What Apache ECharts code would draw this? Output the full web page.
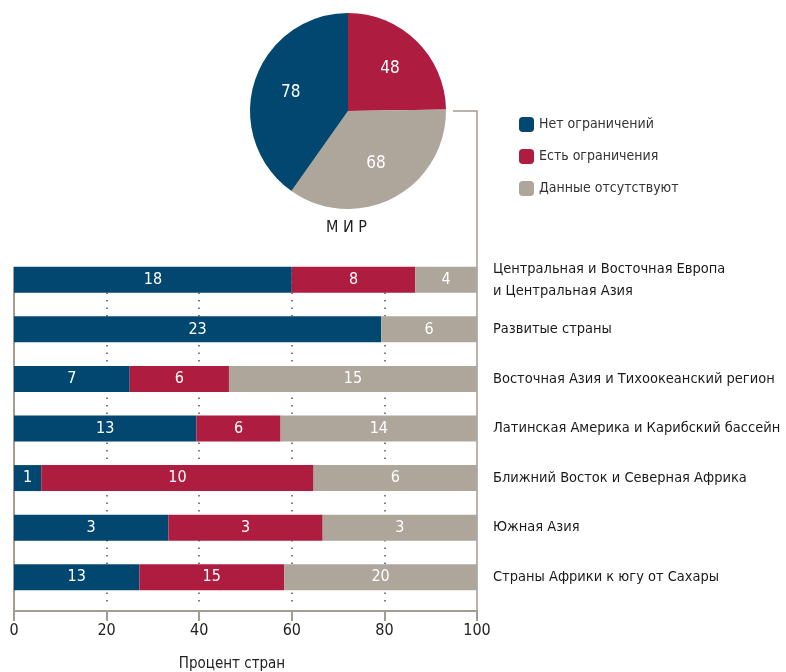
<!DOCTYPE html>
<html>
<head>
<meta charset="utf-8">
<script src="https://cdn.jsdelivr.net/npm/echarts@6/dist/echarts.min.js"></script>
<style>
  html, body { margin: 0; padding: 0; background: #fff; }
  #chart { width: 786px; height: 672px; }
</style>
</head>
<body>
<div id="chart"></div>
<script>
const FONT = "'DejaVu Sans Condensed', 'Liberation Sans Narrow', sans-serif";

const seriesNames = ['Нет ограничений', 'Есть ограничения', 'Данные отсутствуют'];
const colors = ['#02476f', '#ae1c3f', '#aea59b'];

// world pie (counts)
const worldLabel = 'М И Р';
const worldCounts = [78, 48, 68];

const regions = [
  'Центральная и Восточная Европа\nи Центральная Азия',
  'Развитые страны',
  'Восточная Азия и Тихоокеанский регион',
  'Латинская Америка и Карибский бассейн',
  'Ближний Восток и Северная Африка',
  'Южная Азия',
  'Страны Африки к югу от Сахары'
];
const noLimits = [18, 23, 7, 13, 1, 3, 13];
const withLimits = [8, 0, 6, 6, 10, 3, 15];
const noData = [4, 6, 15, 14, 6, 3, 20];

const xTicks = [0, 20, 40, 60, 80, 100];
const xName = 'Процент стран';

const counts = [noLimits, withLimits, noData];
const totals = regions.map((_, i) => noLimits[i] + withLimits[i] + noData[i]);

const chart = echarts.init(document.getElementById('chart'));

// pie slices in drawing order (clockwise from top): red, gray, blue
const pieOrder = [1, 2, 0];
const pieData = pieOrder.map((k) => ({
  name: seriesNames[k],
  value: worldCounts[k],
  itemStyle: { color: colors[k] }
}));

const barSeries = counts.map((arr, k) => ({
  name: seriesNames[k],
  type: 'bar',
  stack: 'all',
  barWidth: 26,
  itemStyle: { color: colors[k] },
  label: {
    show: true,
    position: 'inside',
    color: '#fff',
    fontFamily: FONT,
    fontSize: 16,
    formatter: (p) => (arr[p.dataIndex] ? String(arr[p.dataIndex]) : '')
  },
  data: arr.map((v, i) => v / totals[i] * 100)
}));

chart.setOption({
  animation: false,
  textStyle: { fontFamily: FONT },
  legend: {
    orient: 'vertical',
    left: 514,
    top: 112,
    itemWidth: 15,
    itemHeight: 15,
    itemGap: 17,
    data: seriesNames,
    textStyle: { fontFamily: FONT, fontSize: 14, color: '#333' }
  },
  grid: { left: 14, right: 309, top: 255, height: 347, containLabel: false, outerBoundsMode: 'none' },
  xAxis: {
    type: 'value',
    min: 0,
    max: 100,
    interval: 20,
    offset: 9,
    name: xName,
    nameLocation: 'middle',
    nameGap: 46,
    nameTextStyle: { fontFamily: FONT, fontSize: 15, color: '#222', padding: [0, 27, 0, 0] },
    axisLine: { show: true, lineStyle: { color: '#a49b91', width: 2 } },
    axisTick: { show: true, length: 10, lineStyle: { color: '#a49b91', width: 2 } },
    axisLabel: {
      margin: 12,
      fontFamily: FONT,
      fontSize: 16,
      color: '#222',
      formatter: (v) => (xTicks.includes(v) ? String(v) : '')
    },
    splitLine: {
      show: true,
      showMinLine: false,
      showMaxLine: false,
      lineStyle: { color: '#555', width: 1.5, type: [1.5, 6] }
    }
  },
  yAxis: {
    type: 'category',
    inverse: true,
    position: 'right',
    data: regions,
    axisLine: { show: false },
    axisTick: { show: false },
    axisLabel: {
      margin: 16,
      fontFamily: FONT,
      fontSize: 14.5,
      color: '#1a1a1a',
      lineHeight: 22
    }
  },
  series: [
    {
      name: 'world',
      type: 'pie',
      center: [348, 111],
      radius: 98,
      startAngle: 90,
      clockwise: true,
      label: { show: false },
      labelLine: { show: false },
      itemStyle: { borderWidth: 0 },
      data: pieData
    },
    {
      name: 'worldLabels',
      type: 'pie',
      center: [348, 111],
      radius: [16, 98],
      startAngle: 90,
      clockwise: true,
      silent: true,
      legendHoverLink: false,
      itemStyle: { color: 'rgba(0,0,0,0)' },
      label: {
        show: true,
        position: 'inside',
        color: '#fff',
        fontFamily: FONT,
        fontSize: 17,
        formatter: (p) => String(p.value)
      },
      data: pieData.map((d) => ({ name: d.name + ' ', value: d.value }))
    },
    ...barSeries
  ],
  graphic: [
    {
      type: 'text',
      left: 348 - 22,
      top: 220,
      style: { text: worldLabel, fontFamily: FONT, fontSize: 16, fill: '#222' }
    },
    // hide grid dots above the first bar
    {
      type: 'rect',
      silent: true,
      z: 1,
      shape: { x: 15, y: 254, width: 461, height: 12 },
      style: { fill: '#fff' }
    },
    {
      type: 'polyline',
      silent: true,
      shape: { points: [[453, 111], [477, 111], [477, 611]] },
      style: { stroke: '#a49b91', lineWidth: 1.5, fill: null }
    },
    {
      type: 'line',
      silent: true,
      shape: { x1: 14, y1: 267, x2: 14, y2: 611 },
      style: { stroke: '#a49b91', lineWidth: 2 }
    }
  ]
});
</script>
</body>
</html>
